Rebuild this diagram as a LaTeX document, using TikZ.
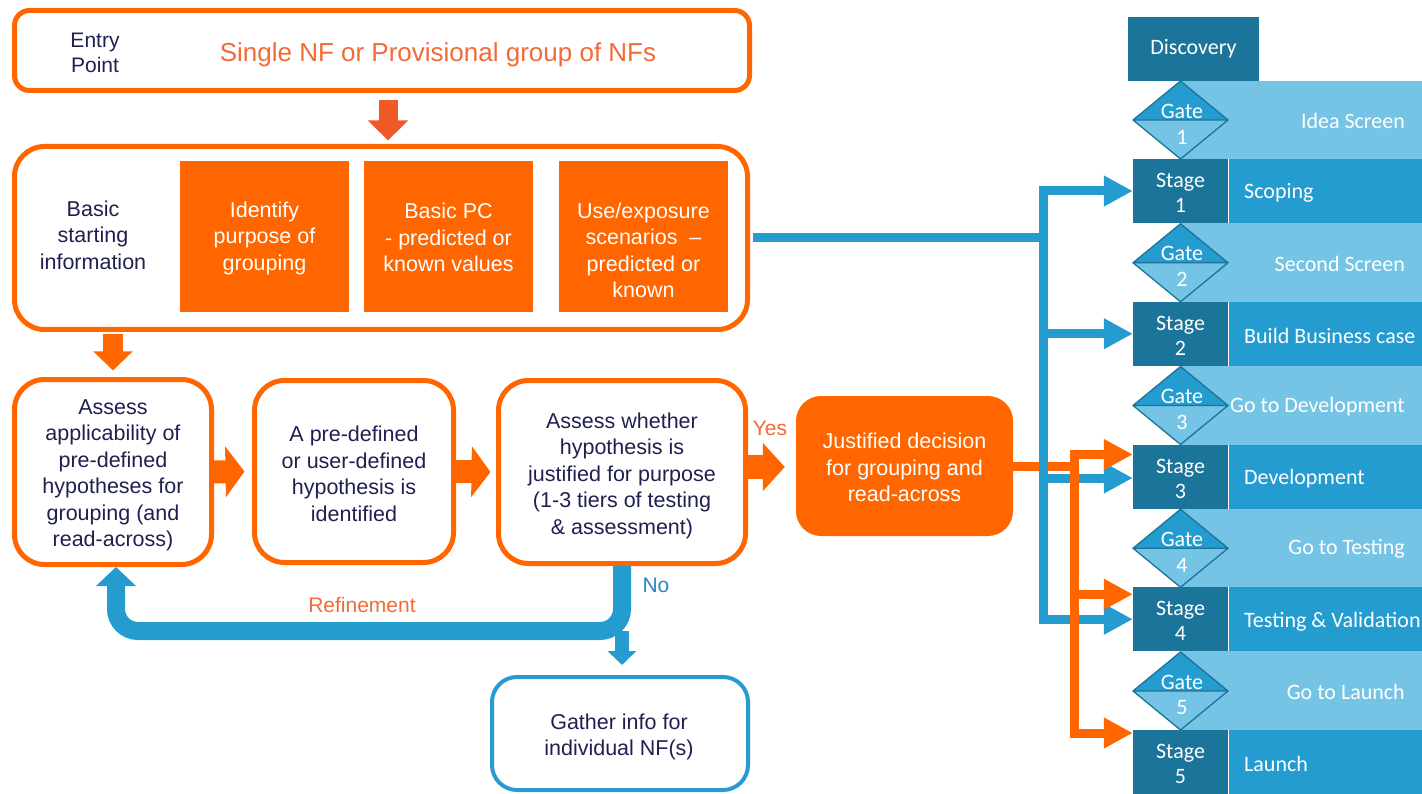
\documentclass[tikz,border=0pt]{standalone}
\usepackage{fontspec}
\setmainfont{Liberation Sans}
\newfontfamily\calfont{Carlito}
\usetikzlibrary{arrows.meta,calc}

\definecolor{orng}{HTML}{FF6600}
\definecolor{orngred}{HTML}{EF5A28}
\definecolor{navy}{HTML}{1F2050}
\definecolor{stageteal}{HTML}{1B7499}
\definecolor{midblue}{HTML}{259CCF}
\definecolor{lightblue}{HTML}{75C4E6}
\definecolor{conblue}{HTML}{259CCF}
\definecolor{gblue}{HTML}{2A9BD2}
\definecolor{labelorng}{HTML}{F26A36}
\definecolor{noblue}{HTML}{2386C8}

\begin{document}
\begin{tikzpicture}[x=1pt,y=-1pt,
  txt/.style={font=\fontsize{21.5}{26.5}\selectfont, text=navy, align=center, inner sep=0pt},
  obox/.style={draw=orng, line width=5pt, rounded corners=30pt, inner sep=0pt},
  ofill/.style={fill=orng, txt, text=white, inner sep=0pt, minimum width=169pt, minimum height=151pt},
  caltext/.style={font=\calfont\fontsize{22}{25}\selectfont, text=white, inner sep=0pt, align=center},
  stagebox/.style={fill=stageteal, minimum width=95pt, minimum height=64pt, inner sep=0pt},
  bline/.style={draw=conblue, line width=9pt},
  barrow/.style={bline, -{Triangle[length=29pt,width=29pt]}},
  oline/.style={draw=orng, line width=9pt},
  oarrow/.style={oline, -{Triangle[length=29pt,width=29pt]}},
  blockarrow/.style={draw=orng, line width=23pt, -{Triangle[length=19pt,width=50pt]}},
  lbl/.style={font=\fontsize{21}{25}\selectfont, inner sep=0pt}
]
\useasboundingbox (0,0) rectangle (1422,794);

% ---------- stage-gate column ----------
\fill[lightblue] (1180,81) rectangle (1422,794);
\node[fill=stageteal, minimum width=131pt, minimum height=64pt, inner sep=0pt, caltext] (disc) at (1193.5,49) {Discovery};
\foreach \i/\stg/\gt in {1/Scoping/Idea Screen,
                         2/Build Business case/Second Screen,
                         3/Development/Go to Development,
                         4/Testing \& Validation/Go to Testing,
                         5/Launch/Go to Launch}{
  \pgfmathsetmacro\ytop{159+(\i-1)*142.75}
  \pgfmathsetmacro\gy{\ytop-39}
  \fill[midblue] (1228,\ytop) rectangle (1422,{\ytop+64});
  \node[stagebox] (s\i) at (1180.5,{\ytop+32}) {};
  \node[caltext] (st\i) at (1180.5,{\ytop+34}) {Stage\\\i};
  \draw[white, line width=1pt] (1228.5,\ytop) -- (1228.5,{\ytop+64});
  \fill[midblue] (1133,\gy) -- (1180.5,{\gy-39}) -- (1228,\gy) -- cycle;
  \fill[lightblue] (1133,\gy) -- (1180.5,{\gy+39}) -- (1228,\gy) -- cycle;
  \draw[stageteal, line width=1.3pt, line join=miter]
    (1133,\gy) -- (1180.5,{\gy-39}) -- (1228,\gy) -- (1180.5,{\gy+39}) -- cycle
    (1133,\gy) -- (1228,\gy);
  \node[caltext] (gt\i) at (1182,{\gy-9}) {Gate};
  \node[caltext] (gn\i) at (1182,{\gy+17}) {\i};
  \node[caltext, anchor=east] (gl\i) at (1405,{\gy+1}) {\gt};
  \node[caltext, anchor=west] (sl\i) at (1244,{\ytop+34}) {\stg};
}

% ---------- entry point ----------
\node[obox, rounded corners=15pt, minimum width=735pt, minimum height=80pt] (top) at (382,50.5) {};
\node[txt, font=\fontsize{21}{25}\selectfont] (entry) at (95,52.5) {Entry\\Point};
\node[font=\fontsize{26}{30}\selectfont, text=labelorng, inner sep=0pt] (single) at (438,55) {Single NF or Provisional group of NFs};

% ---------- basic starting information ----------
\node[obox, minimum width=733pt, minimum height=183pt] (box2) at (381,238) {};
\node[txt] (basic) at (93,235) {Basic\\starting\\information};
\node[ofill] (purp) at (264.5,236.5) {};
\node[txt, text=white] (purptxt) at (264.5,238) {Identify\\purpose of\\grouping};
\node[ofill] (pc) at (448.5,236.5) {};
\node[txt, text=white] (pctxt) at (448.5,237.5) {Basic PC\\- predicted or\\known values};
\node[ofill] (use) at (643.5,236.5) {};
\node[txt, text=white] (usetxt) at (643.5,250.5) {Use/exposure\\scenarios\ \ –\\predicted or\\known};

% ---------- hypothesis row ----------
\node[obox, minimum width=197pt, minimum height=185pt] (A) at (113,472) {};
\node[txt] (Atxt) at (113,475.5)
  {Assess\\applicability of\\pre-defined\\hypotheses for\\grouping (and\\read-across)};
\node[obox, minimum width=199pt, minimum height=182pt] (B) at (354,471.5) {};
\node[txt] (Btxt) at (354,474)
  {A pre-defined\\or user-defined\\hypothesis is\\identified};
\node[obox, minimum width=247pt, minimum height=183pt] (C) at (622,472) {};
\node[txt] (Ctxt) at (622,475.5)
  {Assess whether\\hypothesis is\\justified for purpose\\(1-3 tiers of testing\\\& assessment)};
\node[fill=orng, rounded corners=25pt, minimum width=217pt, minimum height=140pt, inner sep=0pt] (just) at (904.5,466) {};
\node[txt, text=white] (justtxt) at (904.5,467.5) {Justified decision\\for grouping and\\read-across};
\node[draw=gblue, line width=4pt, rounded corners=25pt, minimum width=256pt, minimum height=113pt, inner sep=0pt] (gather) at (620,733.5) {};
\node[txt] (gathertxt) at (619,737) {Gather info for\\individual NF(s)};

% ---------- block arrows ----------
\coordinate (ea) at ($(top.south)+(6,7.5)$);
\draw[orngred, line width=19pt, -{Triangle[length=20pt,width=39pt]}] (ea) -- ($(ea |- box2.north)+(0,-3.5)$);
\draw[orng, line width=20pt, -{Triangle[length=19pt,width=38pt]}] ($(box2.south -| A.north)+(0,2.5)$) -- ($(A.north)+(0,-6.5)$);
\draw[blockarrow] (A.east) -- ($(B.west)+(-7.5,0)$);
\draw[blockarrow] (B.east) -- ($(C.west)+(-5.5,0)$);
\draw[orng, line width=24pt, -{Triangle[length=22pt,width=47pt]}] ($(C.east |- just.west)+(0,1)$) -- ($(just.west)+(-11,1)$);
\node[lbl, text=labelorng] (yes) at (770,428) {Yes};

% ---------- refinement loop and no branch ----------
\coordinate (refl) at (370,631);
\draw[conblue, line width=18pt, rounded corners=22pt, -{Triangle[length=19pt,width=39pt]}]
  (C.south) |- (refl) -| ($(A.south)+(3,0)$);
\draw[conblue, line width=14pt, -{Triangle[length=14pt,width=28pt]}]
  (C.south |- refl) -- ($(gather.north -| C.south)+(0,-10)$);
\node[lbl, text=labelorng] (refine) at (362,605) {Refinement};
\node[lbl, text=noblue] (no) at (656,585) {No};

% ---------- connectors to the stages ----------
\coordinate (jb) at (1043,238);
\coordinate (jo) at (1074,466);
\draw[oline] (just.east) -- (jo);
\draw[bline] ($(box2.east)+(2.5,0)$) -- (jb);
\draw[barrow] (jb) |- (s1.west);
\draw[barrow] (jb) |- (s2.west);
\draw[barrow] (jb) |- ($(s3.west)+(0,1.5)$);
\draw[barrow] (jb) |- (s4.west);
\draw[oarrow] (jo) |- ($(s3.west)+(0,-22)$);
\draw[oarrow] (jo) |- ($(s4.west)+(0,-25)$);
\draw[oarrow] (jo) |- ($(s5.west)+(0,-29)$);
\end{tikzpicture}
\end{document}
